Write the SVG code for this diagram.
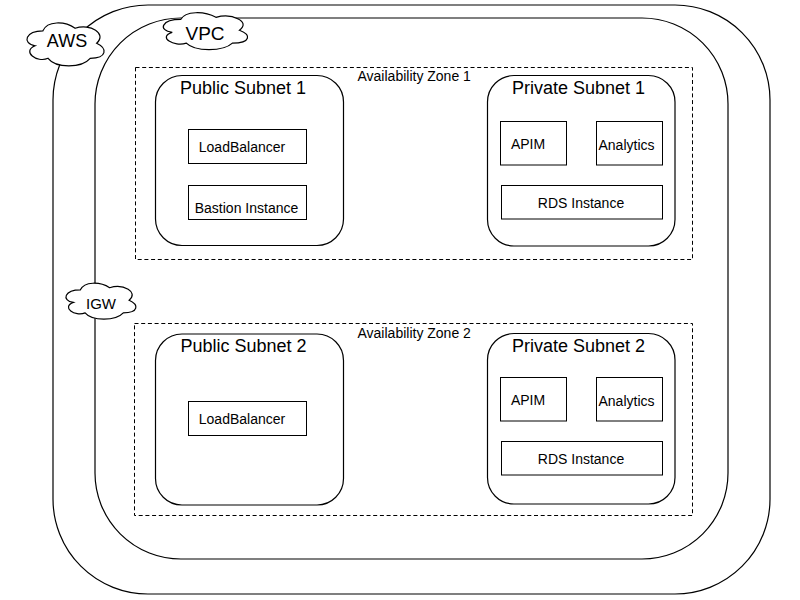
<svg xmlns="http://www.w3.org/2000/svg" width="800" height="600" viewBox="0 0 800 600">
  <style>
    .frame { fill: #ffffff; stroke: #000000; stroke-width: 1.2; }
    .zone { fill: none; stroke: #000000; stroke-width: 1; stroke-dasharray: 4 2.7; }
    .subnet { fill: #ffffff; stroke: #000000; stroke-width: 1.2; }
    .box { fill: #ffffff; stroke: #000000; stroke-width: 1; }
    .cloud { fill: #ffffff; stroke: #000000; stroke-width: 1.2; }
    text { font-family: "Liberation Sans", Arial, sans-serif; fill: #000000; }
    .big { font-size: 18px; }
    .mid { font-size: 14px; }
    .lbl { font-size: 14px; }
  </style>
  <rect width="800" height="600" fill="#ffffff"/>

  <g id="aws">
    <rect class="frame" x="53" y="5" width="717" height="589" rx="95" ry="95"/>
  </g>
  <g id="vpc">
    <rect class="frame" x="95" y="18" width="633" height="541" rx="86" ry="86"/>
  </g>

  <g id="az1">
    <rect class="zone" x="135.5" y="67.5" width="557" height="192"/>
    <text class="lbl" x="357.5" y="81">Availability Zone 1</text>
  </g>
  <g id="az2">
    <rect class="zone" x="134.5" y="323.5" width="558" height="192"/>
    <text class="lbl" x="357.5" y="338">Availability Zone 2</text>
  </g>

  <g id="public-subnet-1">
    <rect class="subnet" x="155.5" y="75.5" width="188" height="170" rx="26.5" ry="26.5"/>
    <text class="big" x="243" y="94" text-anchor="middle">Public Subnet 1</text>
  </g>
  <g id="loadbalancer-1">
    <rect class="box" x="188.5" y="129.5" width="118" height="34"/>
    <text class="mid" x="242" y="152" text-anchor="middle">LoadBalancer</text>
  </g>
  <g id="bastion-1">
    <rect class="box" x="188.5" y="185.5" width="118" height="34"/>
    <text class="mid" x="246.5" y="212.5" text-anchor="middle">Bastion Instance</text>
  </g>

  <g id="private-subnet-1">
    <rect class="subnet" x="487.5" y="75.5" width="187.5" height="170.5" rx="26.5" ry="26.5"/>
    <text class="big" x="578.5" y="94" text-anchor="middle">Private Subnet 1</text>
  </g>
  <g id="apim-1">
    <rect class="box" x="500.5" y="121.5" width="66" height="43.5"/>
    <text class="mid" x="528" y="149" text-anchor="middle">APIM</text>
  </g>
  <g id="analytics-1">
    <rect class="box" x="596.5" y="121.5" width="66" height="43.5"/>
    <text class="mid" x="626.5" y="150" text-anchor="middle">Analytics</text>
  </g>
  <g id="rds-1">
    <rect class="box" x="501.5" y="185.5" width="161" height="33.5"/>
    <text class="mid" x="581" y="208" text-anchor="middle">RDS Instance</text>
  </g>

  <g id="public-subnet-2">
    <rect class="subnet" x="155.5" y="334" width="188" height="171" rx="26.5" ry="26.5"/>
    <text class="big" x="243.5" y="352" text-anchor="middle">Public Subnet 2</text>
  </g>
  <g id="loadbalancer-2">
    <rect class="box" x="188.5" y="401.5" width="118" height="34"/>
    <text class="mid" x="242" y="424" text-anchor="middle">LoadBalancer</text>
  </g>

  <g id="private-subnet-2">
    <rect class="subnet" x="487.5" y="333.5" width="187.5" height="170.5" rx="26.5" ry="26.5"/>
    <text class="big" x="578.5" y="351.5" text-anchor="middle">Private Subnet 2</text>
  </g>
  <g id="apim-2">
    <rect class="box" x="500.5" y="377.5" width="66" height="43.5"/>
    <text class="mid" x="528" y="405" text-anchor="middle">APIM</text>
  </g>
  <g id="analytics-2">
    <rect class="box" x="596.5" y="377.5" width="66" height="43.5"/>
    <text class="mid" x="626.5" y="406" text-anchor="middle">Analytics</text>
  </g>
  <g id="rds-2">
    <rect class="box" x="501.5" y="441.5" width="161" height="33.5"/>
    <text class="mid" x="581" y="464" text-anchor="middle">RDS Instance</text>
  </g>

  <g id="cloud-aws">
    <path class="cloud" d="M42.9,30.8 C25.7,30.8 21.4,43.3 35.16,45.8 C21.4,51.3 36.88,63.3 48.06,58.3 C55.8,68.3 81.6,68.3 90.2,58.3 C107.4,58.3 107.4,48.3 96.65,43.3 C107.4,33.3 90.2,23.3 75.15,28.3 C64.4,20.8 47.2,20.8 42.9,30.8 Z"/>
    <text class="big" x="67" y="47" text-anchor="middle">AWS</text>
  </g>
  <g id="cloud-vpc">
    <path class="cloud" d="M180.7,19.45 C161.9,19.45 157.2,30.2 172.24,32.35 C157.2,37.08 174.12,47.4 186.34,43.1 C194.8,51.7 223,51.7 232.4,43.1 C251.2,43.1 251.2,34.5 239.45,30.2 C251.2,21.6 232.4,13 215.95,17.3 C204.2,10.85 185.4,10.85 180.7,19.45 Z"/>
    <text class="big" x="205" y="40" text-anchor="middle" style="font-size:19px">VPC</text>
  </g>
  <g id="cloud-igw">
    <path class="cloud" d="M80.4,289.8 C64.8,289.8 60.9,300.3 73.38,302.4 C60.9,307.02 74.94,317.1 85.08,312.9 C92.1,321.3 115.5,321.3 123.3,312.9 C138.9,312.9 138.9,304.5 129.15,300.3 C138.9,291.9 123.3,283.5 109.65,287.7 C99.9,281.4 84.3,281.4 80.4,289.8 Z"/>
    <text x="101" y="308.5" text-anchor="middle" style="font-size:15px">IGW</text>
  </g>

  <g id="connectors"></g>
</svg>
